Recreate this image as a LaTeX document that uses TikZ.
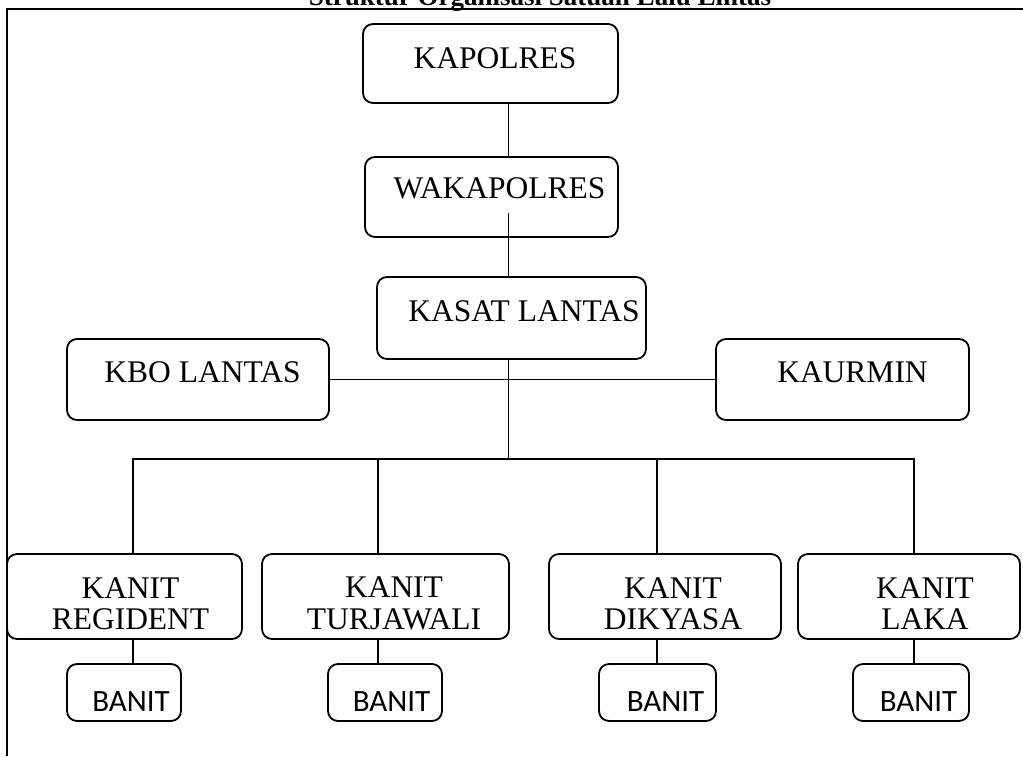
\documentclass[tikz,border=0pt]{standalone}
\usepackage{fontspec}
\setmainfont{Liberation Serif}
\newfontfamily\banitfont{Carlito}
\begin{document}
\begin{tikzpicture}[x=1pt,y=-1pt,
  box/.style={draw, rounded corners=10pt, line width=1.8pt, inner sep=0pt},
  lbl/.style={font=\fontsize{31.5}{31.5}\selectfont, inner sep=0pt, align=center},
  blbl/.style={font=\banitfont\fontsize{31}{31}\selectfont, inner sep=0pt},
  conn/.style={line width=1.8pt}]
\useasboundingbox (0,0) rectangle (1023,756);
% title (cut off at the top) and frame
\begin{scope}
\clip (0,0) rectangle (1023,756);
\node[font=\bfseries\fontsize{27}{27}\selectfont, anchor=base, inner sep=0pt] (title) at (540,5) {Struktur Organisasi Satuan Lalu Lintas};
\end{scope}
\draw[line width=2.2pt] (7,756) -- (7,9) -- (1023,9);
% boxes
\node[box, minimum width=255, minimum height=79] (kapolres) at (490.5,63.5) {};
\node[box, minimum width=253, minimum height=80] (waka) at (491.5,197) {};
\node[box, minimum width=269, minimum height=82] (kasat) at (511.5,318) {};
\node[box, minimum width=262, minimum height=81] (kbo) at (198,379.5) {};
\node[box, minimum width=253, minimum height=81] (kaurmin) at (842.5,379.5) {};
\node[box, minimum width=235, minimum height=85] (k1) at (124.5,596.5) {};
\node[box, minimum width=247, minimum height=85] (k2) at (385.5,596.5) {};
\node[box, minimum width=232, minimum height=85] (k3) at (665,596.5) {};
\node[box, minimum width=222, minimum height=85] (k4) at (909,596.5) {};
\node[box, minimum width=114, minimum height=57] (b1) at (124,692.5) {};
\node[box, minimum width=114, minimum height=57] (b2) at (385,692.5) {};
\node[box, minimum width=117, minimum height=57] (b3) at (657.5,692.5) {};
\node[box, minimum width=116, minimum height=57] (b4) at (911,692.5) {};
% labels
\node[lbl] (tkapolres) at (495,58) {KAPOLRES};
\node[lbl] (twaka) at (499.5,188) {WAKAPOLRES};
\node[lbl] (tkasat) at (524,311) {KASAT LANTAS};
\node[lbl] (tkbo) at (202.5,372.5) {KBO LANTAS};
\node[lbl] (tkaurmin) at (852.5,372.5) {KAURMIN};
\node[lbl] (tk1) at (130.5,603.5) {KANIT\\REGIDENT};
\node[lbl] (tk2) at (394,603.5) {KANIT\\TURJAWALI};
\node[lbl] (tk3) at (673,603.5) {KANIT\\DIKYASA};
\node[lbl] (tk4) at (925,603.5) {KANIT\\LAKA};
\node[blbl] (tb1) at (131,702) {BANIT};
\node[blbl] (tb2) at (391.5,702) {BANIT};
\node[blbl] (tb3) at (665.5,702) {BANIT};
\node[blbl] (tb4) at (918.5,702) {BANIT};
% connectors
\coordinate (sp) at (508.5,0);
\coordinate (wkin) at (508.5,213);
\coordinate (bar) at (508.5,459);
\coordinate (c1) at (133,459);
\coordinate (c2) at (378,459);
\coordinate (c3) at (657,459);
\coordinate (c4) at (914,459);
\draw[conn] (kapolres.south -| sp) -- (waka.north -| sp);
\draw[conn] (wkin) -- (kasat.north -| sp);
\draw[conn] (kasat.south -| bar) -- (bar);
\draw[conn] (kbo.east) -- (kaurmin.west);
\draw[conn] (k1.north -| c1) -- (c1) -- (c4) -- (k4.north -| c4);
\draw[conn] (c2) -- (k2.north -| c2);
\draw[conn] (c3) -- (k3.north -| c3);
\foreach \i in {1,2,3,4}{
  \draw[conn] (k\i.south -| c\i) -- (b\i.north -| c\i);
}
\end{tikzpicture}
\end{document}
